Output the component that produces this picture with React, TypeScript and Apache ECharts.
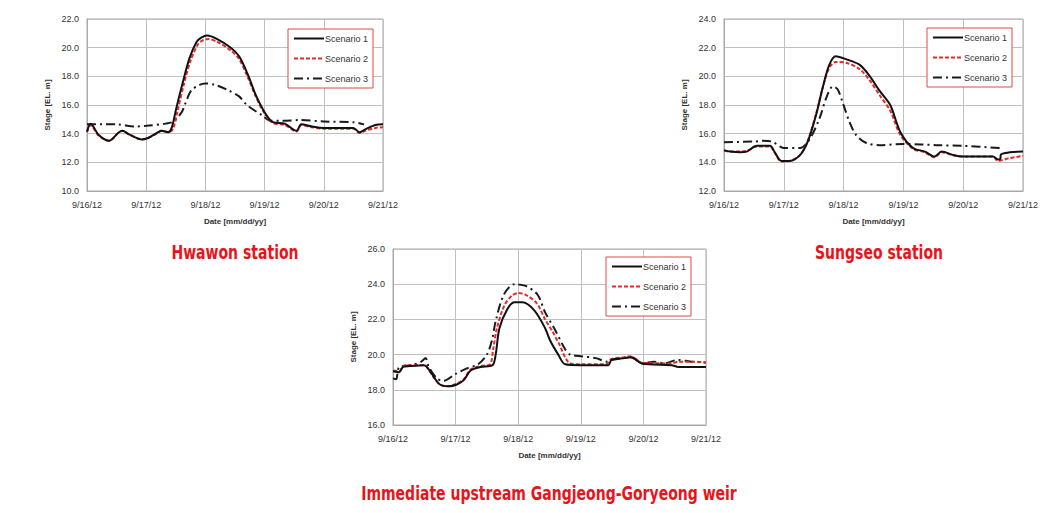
import React, { useEffect, useRef } from "react";
import * as echarts from "echarts";

const xTickLabels = ["9/16/12", "9/17/12", "9/18/12", "9/19/12", "9/20/12", "9/21/12"];
const seriesNames = ["Scenario 1", "Scenario 2", "Scenario 3"];
const panelTitles = ["Hwawon station", "Sungseo station", "Immediate upstream Gangjeong-Goryeong weir"];

// [day offset from 9/16/12, stage EL. m]
const hwawonS1 = [[0,14.15],[0.06,14.7],[0.2,13.9],[0.37,13.5],[0.54,14.1],[0.6,14.2],[0.71,13.95],[0.92,13.6],[1.03,13.7],[1.2,14.1],[1.26,14.2],[1.37,14.1],[1.43,14.4],[1.51,15.8],[1.62,17.6],[1.73,19.25],[1.85,20.4],[1.93,20.7],[2.03,20.85],[2.2,20.6],[2.43,20.0],[2.57,19.4],[2.72,18.1],[2.85,16.7],[3.0,15.5],[3.14,14.8],[3.34,14.7],[3.54,14.2],[3.62,14.65],[3.8,14.5],[4.0,14.4],[4.5,14.4],[4.6,14.1],[4.7,14.3],[4.87,14.6],[5.0,14.65]];
const hwawonS2 = [[0,14.1],[0.06,14.6],[0.2,13.85],[0.37,13.5],[0.54,14.1],[0.6,14.2],[0.71,13.95],[0.92,13.6],[1.03,13.7],[1.2,14.05],[1.26,14.2],[1.37,14.1],[1.45,14.3],[1.53,15.6],[1.64,17.5],[1.75,19.1],[1.87,20.2],[1.95,20.5],[2.05,20.6],[2.2,20.4],[2.43,19.8],[2.57,19.2],[2.72,17.9],[2.85,16.6],[3.0,15.4],[3.14,14.75],[3.34,14.6],[3.54,14.15],[3.62,14.6],[3.8,14.45],[4.0,14.35],[4.5,14.35],[4.6,14.05],[4.7,14.2],[4.87,14.4],[5.0,14.45]];
const hwawonS3 = [[0,14.65],[0.5,14.65],[0.81,14.5],[1.0,14.55],[1.32,14.7],[1.46,14.85],[1.6,15.5],[1.66,16.1],[1.76,17.0],[1.9,17.4],[2.0,17.5],[2.17,17.4],[2.4,17.0],[2.57,16.6],[2.7,16.0],[2.95,15.3],[3.1,14.9],[3.3,14.9],[3.6,14.95],[4.0,14.85],[4.5,14.8],[4.68,14.65]];

const sungseoS1 = [[0,14.85],[0.1,14.75],[0.27,14.7],[0.38,14.75],[0.55,15.15],[0.77,15.15],[0.85,14.7],[0.96,14.1],[1.1,14.1],[1.27,14.5],[1.4,15.45],[1.54,17.3],[1.65,19.2],[1.76,20.8],[1.87,21.4],[2.04,21.2],[2.27,20.8],[2.44,20.0],[2.6,19.0],[2.78,18.0],[2.95,16.1],[3.16,15.0],[3.36,14.75],[3.52,14.4],[3.64,14.75],[3.84,14.5],[4.0,14.4],[4.5,14.4],[4.58,14.2],[4.62,14.25],[4.63,14.55],[4.78,14.7],[5.0,14.75]];
const sungseoS2 = [[0,14.8],[0.1,14.75],[0.27,14.75],[0.38,14.8],[0.55,15.1],[0.77,15.1],[0.85,14.65],[0.96,14.05],[1.1,14.1],[1.27,14.5],[1.4,15.5],[1.54,17.4],[1.65,19.2],[1.76,20.6],[1.87,21.0],[2.04,20.95],[2.27,20.5],[2.44,19.7],[2.6,18.7],[2.78,17.6],[2.95,15.9],[3.16,14.95],[3.36,14.7],[3.52,14.35],[3.64,14.7],[3.84,14.5],[4.0,14.4],[4.5,14.4],[4.58,14.1],[4.78,14.3],[5.0,14.45]];
const sungseoS3 = [[0,15.4],[0.5,15.45],[0.65,15.5],[0.8,15.45],[1.0,15.0],[1.27,15.0],[1.43,15.6],[1.6,17.1],[1.71,18.5],[1.82,19.3],[1.9,19.1],[1.99,18.1],[2.1,16.8],[2.21,15.9],[2.38,15.35],[2.6,15.2],[3.0,15.28],[3.3,15.25],[3.55,15.2],[4.0,15.15],[4.62,15.0]];

const weirS1 = [[0,19.05],[0.1,19.0],[0.16,19.3],[0.27,19.35],[0.49,19.4],[0.54,19.3],[0.65,18.75],[0.75,18.3],[0.89,18.2],[1.02,18.3],[1.13,18.55],[1.24,19.1],[1.4,19.3],[1.59,19.4],[1.64,20.0],[1.7,21.5],[1.83,22.6],[1.94,22.97],[2.07,22.97],[2.26,22.5],[2.43,21.5],[2.51,20.8],[2.64,20.0],[2.75,19.45],[3.0,19.4],[3.44,19.4],[3.49,19.7],[3.7,19.8],[3.8,19.85],[3.97,19.5],[4.45,19.4],[4.56,19.3],[5.0,19.3]];
const weirS2 = [[0,19.1],[0.1,19.05],[0.16,19.35],[0.27,19.4],[0.49,19.4],[0.54,19.3],[0.65,18.7],[0.75,18.3],[0.88,18.2],[1.02,18.35],[1.13,18.6],[1.24,19.15],[1.4,19.35],[1.55,19.45],[1.6,20.3],[1.66,21.5],[1.78,22.8],[1.9,23.35],[2.0,23.5],[2.12,23.4],[2.3,22.9],[2.43,22.0],[2.55,21.3],[2.64,20.7],[2.83,19.5],[3.0,19.45],[3.4,19.45],[3.49,19.75],[3.7,19.85],[3.8,19.9],[3.97,19.55],[4.45,19.5],[4.56,19.6],[4.8,19.6],[5.0,19.55]];
const weirS3 = [[0,18.65],[0.05,18.6],[0.1,19.3],[0.3,19.4],[0.45,19.6],[0.52,19.8],[0.57,19.3],[0.7,18.65],[0.8,18.5],[1.0,18.9],[1.17,19.2],[1.36,19.45],[1.5,20.0],[1.58,20.8],[1.64,21.9],[1.77,23.4],[1.94,24.0],[2.12,23.9],[2.31,23.4],[2.43,22.4],[2.59,21.4],[2.75,20.3],[2.83,20.0],[3.02,19.9],[3.24,19.8],[3.42,19.6],[3.5,19.7],[3.8,19.85],[4.0,19.5],[4.17,19.6],[4.33,19.5],[4.55,19.7],[4.76,19.6],[5.0,19.55]];

const yRanges = [[10, 22], [12, 24], [16, 26]];

export default function App() {
  const ref = useRef<HTMLDivElement>(null);
  useEffect(() => {
    if (!ref.current) return;
    const chart = echarts.init(ref.current, null, { renderer: "svg" });
    const font = "'Liberation Sans', Arial, sans-serif";
    const grids = [
      { left: 87, top: 19, width: 296, height: 172 },
      { left: 724, top: 19, width: 299, height: 172 },
      { left: 393, top: 249, width: 313, height: 176 },
    ];
    const legendPos = [
      { left: 288, top: 29 },
      { left: 927, top: 28 },
      { left: 606, top: 257 },
    ];
    const dataSets = [
      [hwawonS1, hwawonS2, hwawonS3],
      [sungseoS1, sungseoS2, sungseoS3],
      [weirS1, weirS2, weirS3],
    ];
    const styles = [
      { color: "#111", type: "solid" as any, width: 2 },
      { color: "#e32b2b", type: [4, 2] as any, width: 2 },
      { color: "#1a1a1a", type: [9, 4, 2, 4] as any, width: 2 },
    ];
    const series: any[] = [];
    dataSets.forEach((set, gi) => {
      set.forEach((data, si) => {
        series.push({
          type: "line",
          name: seriesNames[si],
          xAxisIndex: gi,
          yAxisIndex: gi,
          data,
          showSymbol: false,
          symbol: "none",
          smooth: 0.3,
          z: 10 - si,
          lineStyle: { ...styles[si] },
          itemStyle: { color: styles[si].color },
        });
      });
    });
    chart.setOption({
      animation: false,
      backgroundColor: "#fff",
      grid: grids.map((g) => ({ ...g, show: true, borderColor: "#a8a8a8", borderWidth: 1 })),
      xAxis: grids.map((_, i) => ({
        type: "value",
        gridIndex: i,
        min: 0,
        max: 5,
        interval: 1,
        name: "Date [mm/dd/yy]",
        nameLocation: "middle",
        nameGap: 26,
        nameTextStyle: { fontSize: 8, fontWeight: "bold", color: "#333", fontFamily: font },
        axisLine: { show: true, lineStyle: { color: "#a8a8a8" } },
        axisTick: { show: false },
        splitLine: { show: true, lineStyle: { color: "#c0c0c0" } },
        axisLabel: {
          fontSize: 9,
          color: "#333",
          fontFamily: font,
          margin: 9,
          formatter: (v: number) => xTickLabels[Math.round(v)] ?? "",
        },
      })),
      yAxis: grids.map((_, i) => ({
        type: "value",
        gridIndex: i,
        min: yRanges[i][0],
        max: yRanges[i][1],
        interval: 2,
        name: "Stage [EL. m]",
        nameLocation: "middle",
        nameGap: 36,
        nameRotate: 90,
        nameTextStyle: { fontSize: 8, fontWeight: "bold", color: "#333", fontFamily: font },
        axisLine: { show: true, lineStyle: { color: "#a8a8a8" } },
        axisTick: { show: false },
        splitLine: { show: true, lineStyle: { color: "#c0c0c0" } },
        axisLabel: {
          fontSize: 9,
          color: "#333",
          fontFamily: font,
          margin: 8,
          formatter: (v: number) => v.toFixed(1),
        },
      })),
      legend: legendPos.map((p) => ({
        ...p,
        orient: "vertical",
        data: seriesNames,
        backgroundColor: "#fff",
        borderColor: "#e04848",
        borderWidth: 1,
        padding: [5, 5, 5, 5],
        itemGap: 11,
        itemWidth: 30,
        itemHeight: 10,
        selectedMode: false,
        itemStyle: { opacity: 0, borderWidth: 0 },
        textStyle: { fontSize: 9, color: "#333", fontFamily: font, padding: [0, 0, 0, -4] },
      })),
      graphic: [
        { center: 235, y: 252, text: panelTitles[0] },
        { center: 879, y: 252, text: panelTitles[1] },
        { center: 549, y: 493, text: panelTitles[2] },
      ].map((t) => ({
        type: "text",
        x: t.center,
        y: t.y,
        scaleX: 0.82,
        style: {
          text: t.text,
          fill: "#e8141c",
          font: "bold 19px 'Liberation Sans Narrow', 'DejaVu Sans Condensed', Arial, sans-serif",
          textAlign: "center",
          textVerticalAlign: "middle",
        },
      })),
      series,
    } as any);
    return () => chart.dispose();
  }, []);
  return (
    <div
      ref={ref}
      style={{ position: "fixed", left: 0, top: 0, width: 1053, height: 513, background: "#fff" }}
    />
  );
}
